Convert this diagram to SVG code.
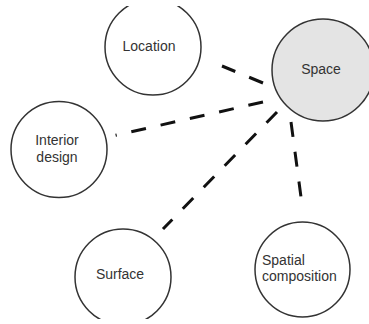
<svg xmlns="http://www.w3.org/2000/svg" width="369" height="324" viewBox="0 0 369 324">
  <style>
    .node circle { fill: #ffffff; stroke: #333333; stroke-width: 1.5; }
    .node.hub circle { fill: #e4e4e4; }
    .node text { font-family: "Liberation Sans", Arial, sans-serif; font-size: 14px; fill: #333333; }
    .link { fill: none; stroke: #111111; stroke-width: 3; stroke-dasharray: 15 15; }
  </style>
  <defs>
    <clipPath id="frame">
      <rect x="0" y="6" width="369" height="313"/>
    </clipPath>
  </defs>
  <rect width="369" height="324" fill="#ffffff"/>
  <g clip-path="url(#frame)">
    <g id="connectors">
      <path class="link" d="M263,83 L222,66"/>
      <path class="link" d="M263,102 L115.6,135.3"/>
      <path class="link" d="M277,112 L163,229"/>
      <path class="link" d="M291,122 L301,197"/>
    </g>
    <g id="location" class="node">
      <circle cx="153" cy="47" r="48"/>
      <text x="149" y="51" text-anchor="middle">Location</text>
    </g>
    <g id="space" class="node hub">
      <circle cx="323" cy="70" r="51"/>
      <text x="321" y="74" text-anchor="middle">Space</text>
    </g>
    <g id="interior-design" class="node">
      <circle cx="59" cy="149.5" r="48"/>
      <text x="57" y="145" text-anchor="middle">Interior</text>
      <text x="57" y="162" text-anchor="middle">design</text>
    </g>
    <g id="surface" class="node">
      <circle cx="123" cy="277" r="48"/>
      <text x="120" y="279" text-anchor="middle">Surface</text>
    </g>
    <g id="spatial-composition" class="node">
      <circle cx="302.5" cy="269.5" r="47.5"/>
      <text x="262" y="265">Spatial</text>
      <text x="262" y="281">composition</text>
    </g>
  </g>
</svg>
